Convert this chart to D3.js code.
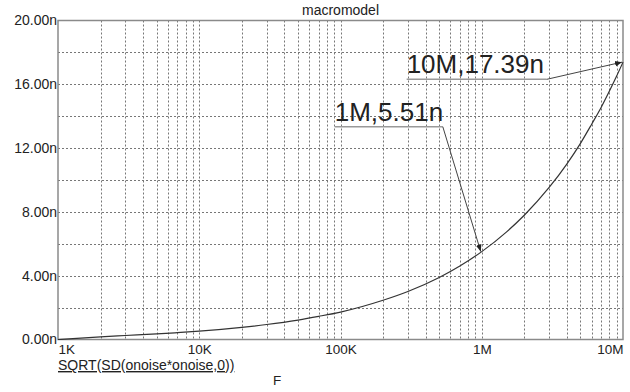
<!DOCTYPE html>
<html><head><meta charset="utf-8">
<script src="https://cdn.jsdelivr.net/npm/d3@7"></script>
<style>
html,body{margin:0;padding:0;background:#fff;}
svg{display:block;font-family:"Liberation Sans",Arial,sans-serif;}
</style></head>
<body><svg id="c" width="630" height="392"></svg>
<script>
// ---- data ----
const freqs  = [1e3,2e3,3e3,5e3,7e3,1e4,2e4,3e4,5e4,7e4,1e5,2e5,3e5,5e5,7e5,1e6,1.5e6,2e6,3e6,4e6,5e6,6e6,7e6,8e6,9e6,1e7];
const noiseN = [0,0.17,0.25,0.35,0.43,0.52,0.76,0.94,1.22,1.45,1.72,2.46,3.01,3.89,4.61,5.51,6.75,7.79,9.53,11.0,12.3,13.5,14.55,15.56,16.5,17.39];
const xTickVals = [1e3,1e4,1e5,1e6,1e7];
const xTickLabels = ["1K","10K","100K","1M","10M"];
const yTickVals = [0,4,8,12,16,20];
const yGridVals = [0,2,4,6,8,10,12,14,16,18,20];
const annFreq = [1e6,1e7];
const annVal  = [5.51,17.39];
const annText = ["1M,5.51n","10M,17.39n"];
const annLabelFreqStart = [9.1e4,2.94e5];
const annLabelFreqEnd   = [5.3e5,2.88e6];
const annLabelVal       = [13.34,16.31];
const title = "macromodel";
const traceName = "SQRT(SD(onoise*onoise,0))";
const xName = "F";

// ---- layout ----
const L=58, R=623, T=20.5, B=339.5;
const svg = d3.select("#c");
const x = d3.scaleLog().domain([1e3,1e7]).range([L,R]);
const y = d3.scaleLinear().domain([0,20]).range([B,T]);

// grid
const gx = svg.append("g");
const minor = x.ticks(40).filter(v=>v>1e3 && v<1e7);
gx.selectAll("line.v").data(minor).join("line")
  .attr("x1",d=>Math.round(x(d))+0.5).attr("x2",d=>Math.round(x(d))+0.5)
  .attr("y1",T).attr("y2",B)
  .attr("stroke","#777").attr("stroke-width",1).attr("stroke-dasharray","2,2");
gx.selectAll("line.h").data(yGridVals.filter(v=>v>0&&v<20)).join("line")
  .attr("x1",L).attr("x2",R)
  .attr("y1",d=>Math.round(y(d))+0.5).attr("y2",d=>Math.round(y(d))+0.5)
  .attr("stroke","#777").attr("stroke-width",1).attr("stroke-dasharray","2,2");

// frame
svg.append("rect").attr("x",L).attr("y",T).attr("width",R-L).attr("height",B-T)
  .attr("fill","none").attr("stroke","#8a8a8a").attr("stroke-width",1.5);

// y axis
const yAxis = d3.axisLeft(y).tickValues(yTickVals).tickSize(0).tickPadding(1)
  .tickFormat(d=>d3.format(".2f")(d)+"n");
const ya = svg.append("g").attr("transform",`translate(${L},0)`).call(yAxis);
ya.select(".domain").remove();
ya.selectAll("text").attr("font-size",14).attr("fill","#222").attr("font-family","Liberation Sans, Arial, sans-serif");

// x axis
const xAxis = d3.axisBottom(x).tickValues(xTickVals).tickSize(0).tickPadding(5)
  .tickFormat((d,i)=>xTickLabels[i]);
const xa = svg.append("g").attr("transform",`translate(0,${B})`).call(xAxis);
xa.select(".domain").remove();
xa.selectAll("text").attr("font-size",13.5).attr("fill","#222").attr("font-family","Liberation Sans, Arial, sans-serif")
  .attr("text-anchor",(d,i)=> i===0 ? "start" : (i===xTickVals.length-1 ? "end" : "middle"));

// curve
const line = d3.line().x((d,i)=>x(freqs[i])).y(d=>y(d)).curve(d3.curveMonotoneX);
svg.append("path").datum(noiseN).attr("d",line)
  .attr("fill","none").attr("stroke","#333").attr("stroke-width",1.2);

// title & labels
svg.append("text").attr("x",(L+R)/2).attr("y",15).attr("text-anchor","middle")
  .attr("font-size",14).attr("fill","#222").text(title);
svg.append("text").attr("x",L).attr("y",370).attr("font-size",14).attr("fill","#222")
  .attr("text-decoration","underline").text(traceName);
svg.append("text").attr("x",273).attr("y",385).attr("font-size",13.5).attr("fill","#222").text(xName);

// annotations
svg.append("defs").append("marker").attr("id","ah").attr("viewBox","0 0 10 10")
  .attr("refX",10).attr("refY",5).attr("markerWidth",7).attr("markerHeight",7)
  .attr("markerUnits","userSpaceOnUse").attr("orient","auto")
  .append("path").attr("d","M0,1L10,5L0,9Z").attr("fill","#222");
annText.forEach((t,i)=>{
  const ly = y(annLabelVal[i]);
  const x0 = x(annLabelFreqStart[i]), x1 = x(annLabelFreqEnd[i]);
  svg.append("line").attr("x1",x0).attr("x2",x1).attr("y1",ly).attr("y2",ly)
    .attr("stroke","#999").attr("stroke-width",1.5);
  svg.append("line").attr("x1",x1).attr("y1",ly)
    .attr("x2",x(annFreq[i])-1).attr("y2",y(annVal[i]))
    .attr("stroke","#444").attr("stroke-width",1).attr("marker-end","url(#ah)");
  svg.append("text").attr("x",x0).attr("y",ly-6).attr("font-size",26)
    .attr("fill","#222").text(t);
});
</script></body></html>
